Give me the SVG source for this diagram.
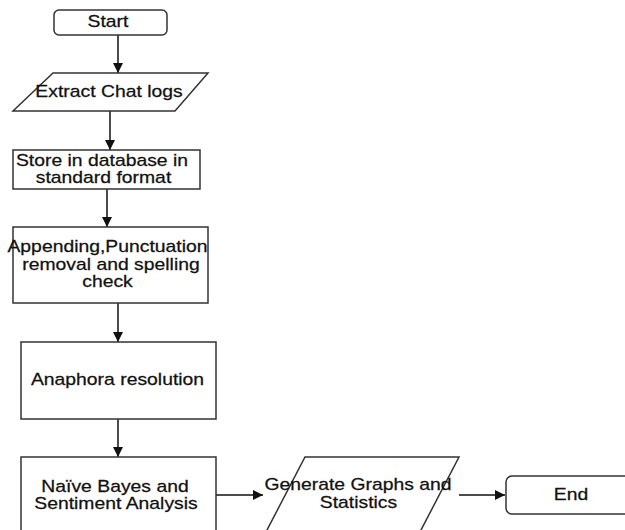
<svg xmlns="http://www.w3.org/2000/svg" width="625" height="530" viewBox="0 0 625 530">
<style>
.box{fill:#fff;stroke:#333;stroke-width:1.5}
.t{font-family:"Liberation Sans",Arial,sans-serif;font-size:16px;fill:#111;text-anchor:middle;stroke:#111;stroke-width:0.25}
.c{fill:none;stroke:#111;stroke-width:1.5}
</style>
<defs>
<marker id="ah" viewBox="0 0 10 10" refX="10" refY="5" markerWidth="10" markerHeight="10" markerUnits="userSpaceOnUse" orient="auto">
<path d="M0,0 L10,5 L0,10 z" fill="#111"/>
</marker>
</defs>
<g id="connectors">
<line class="c" x1="118" y1="35" x2="118" y2="73" marker-end="url(#ah)"/>
<line class="c" x1="110" y1="111" x2="110" y2="150" marker-end="url(#ah)"/>
<line class="c" x1="107" y1="189" x2="107" y2="227" marker-end="url(#ah)"/>
<line class="c" x1="118" y1="303" x2="118" y2="342" marker-end="url(#ah)"/>
<line class="c" x1="118" y1="419" x2="118" y2="457" marker-end="url(#ah)"/>
<line class="c" x1="216" y1="495" x2="263" y2="495" marker-end="url(#ah)"/>
<line class="c" x1="459" y1="495" x2="505" y2="495" marker-end="url(#ah)"/>
</g>
<g id="start">
<rect class="box" x="54" y="10" width="113" height="25" rx="5"/>
<text class="t" transform="translate(108,27) scale(1.21,1)">Start</text>
</g>
<g id="extract">
<polygon class="box" points="53,73 208,73 175,111 13,111"/>
<text class="t" transform="translate(109,97) scale(1.21,1)">Extract Chat logs</text>
</g>
<g id="store">
<rect class="box" x="13" y="150" width="187" height="39"/>
<text class="t" transform="translate(102,166) scale(1.21,1)">Store in database in</text>
<text class="t" transform="translate(103.5,183) scale(1.21,1)">standard format</text>
</g>
<g id="appending">
<rect class="box" x="13" y="227" width="195" height="76"/>
<text class="t" transform="translate(107.5,252) scale(1.21,1)">Appending,Punctuation</text>
<text class="t" transform="translate(111,269.5) scale(1.21,1)">removal and spelling</text>
<text class="t" transform="translate(107.5,287) scale(1.21,1)">check</text>
</g>
<g id="anaphora">
<rect class="box" x="21" y="342" width="195" height="77"/>
<text class="t" transform="translate(117.5,385) scale(1.21,1)">Anaphora resolution</text>
</g>
<g id="naive">
<rect class="box" x="21" y="457" width="195" height="90"/>
<text class="t" transform="translate(115,492) scale(1.21,1)">Naïve Bayes and</text>
<text class="t" transform="translate(116,509) scale(1.21,1)">Sentiment Analysis</text>
</g>
<g id="generate">
<polygon class="box" points="305,457 459,457 408,555 254,555"/>
<text class="t" transform="translate(358,490) scale(1.21,1)">Generate Graphs and</text>
<text class="t" transform="translate(358.5,508) scale(1.21,1)">Statistics</text>
</g>
<g id="end">
<rect class="box" x="506" y="476" width="130" height="38" rx="6"/>
<text class="t" transform="translate(571,500) scale(1.21,1)">End</text>
</g>
</svg>
